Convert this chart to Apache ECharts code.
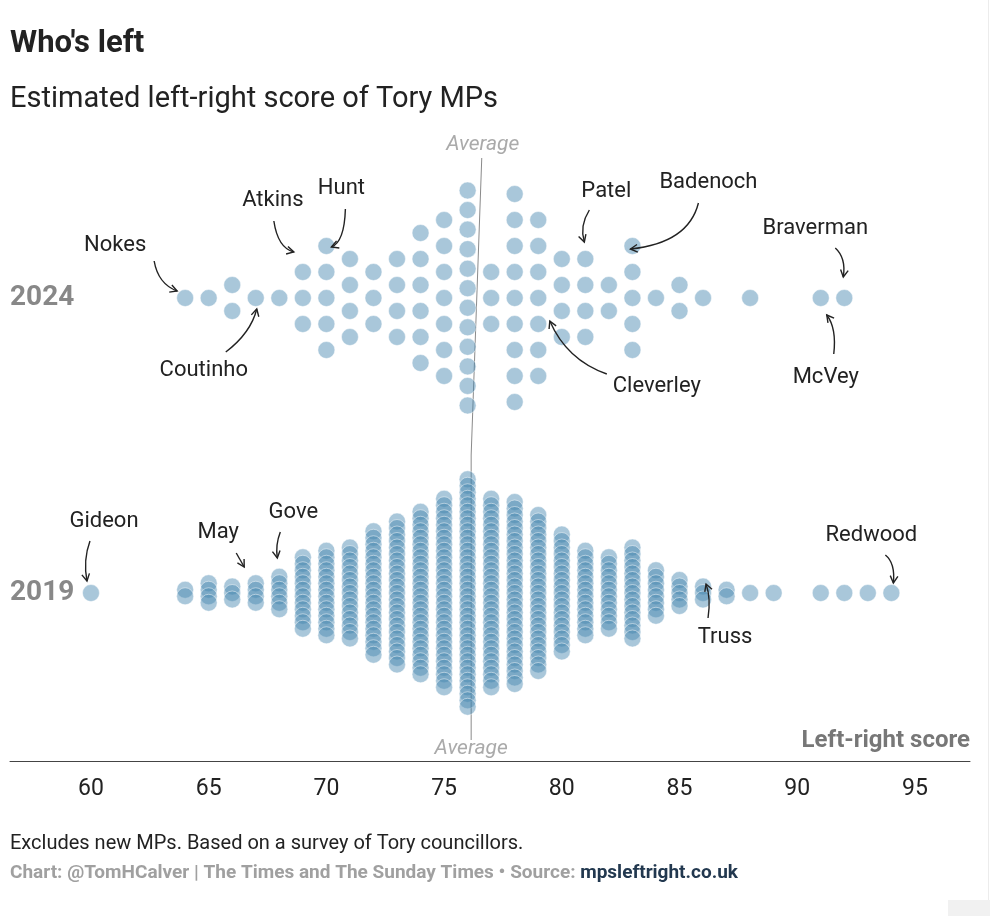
<!DOCTYPE html>
<html lang="en">
<head>
<meta charset="UTF-8">
<title>Who's left</title>
<script src="https://cdn.jsdelivr.net/npm/echarts@6/dist/echarts.min.js"></script>
<style>
  html, body { margin: 0; padding: 0; background: #fff; }
  #chart { width: 990px; height: 916px; }
</style>
</head>
<body>
<div id="chart"></div>
<script>
// left-right score columns and number of MPs on each score
const scores2024 = [64, 65, 66, 67, 68, 69, 70, 71, 72, 73, 74, 75, 76, 77, 78, 79, 80, 81, 82, 83, 84, 85, 86, 88, 91, 92];
const counts2024 = [1, 1, 2, 1, 1, 3, 5, 4, 3, 4, 6, 7, 12, 3, 9, 7, 4, 4, 2, 5, 1, 2, 1, 1, 1, 1];
const scores2019 = [60, 64, 65, 66, 67, 68, 69, 70, 71, 72, 73, 74, 75, 76, 77, 78, 79, 80, 81, 82, 83, 84, 85, 86, 87, 88, 89, 91, 92, 93, 94];
const counts2019 = [1, 2, 4, 3, 4, 6, 12, 14, 15, 20, 23, 26, 30, 36, 30, 29, 25, 19, 14, 12, 15, 8, 5, 3, 2, 1, 1, 1, 1, 1, 1];
const years = ['2024', '2019'];
const averages = [76.6, 76.15];
const xTicks = [60, 65, 70, 75, 80, 85, 90, 95];

// named MPs: which row and score the arrow points at
const noteNames = ['Nokes', 'Coutinho', 'Atkins', 'Hunt', 'Patel', 'Badenoch', 'Braverman', 'McVey', 'Cleverley', 'Gideon', 'May', 'Gove', 'Truss', 'Redwood'];
const noteYears = ['2024', '2024', '2024', '2024', '2024', '2024', '2024', '2024', '2024', '2019', '2019', '2019', '2019', '2019'];
const noteScores = [64, 67, 69, 70, 81, 83, 92, 91, 80, 60, 66, 68, 86, 94];

// label + arrow placement, in px relative to the row centre at that score
const notePlace = {
  Nokes:     { label: [-70, -53], arrow: [[-31, -37], [-27, -14], [-8, -7]] },
  Coutinho:  { label: [-52, 72],  arrow: [[-30, 54], [-5, 35], [1, 11]] },
  Atkins:    { label: [-30, -98], arrow: [[-29, -77], [-25, -50], [-9, -46]] },
  Hunt:      { label: [15, -110], arrow: [[19, -89], [18, -56], [5, -51]] },
  Patel:     { label: [21, -107], arrow: [[4, -88], [-6, -72], [-1, -56]] },
  Badenoch:  { label: [76, -116], arrow: [[66, -95], [56, -55], [-2, -49]] },
  Braverman: { label: [-29, -70], arrow: [[-9, -50], [2, -40], [-1, -21]] },
  McVey:     { label: [5, 79],    arrow: [[13, 56], [16, 30], [6, 17]] },
  Cleverley: { label: [95, 88],   arrow: [[45, 76], [5, 62], [-12, 23]] },
  Gideon:    { label: [13, -72],  arrow: [[-1, -52], [-8, -33], [-4, -12]] },
  May:       { label: [-14, -61], arrow: [[4, -40], [8, -33], [12, -26]] },
  Gove:      { label: [14, -81],  arrow: [[1, -61], [-4, -48], [-2, -35]] },
  Truss:     { label: [22, 44],   arrow: [[5, 25], [8, 5], [3, -9]] },
  Redwood:   { label: [-20, -58], arrow: [[-6, -38], [4, -30], [2, -10]] }
};

// y axis is just swarm space (top of grid = 0)
const rowCentre = { '2024': 168, '2019': 463 };

function swarm(scores, counts, centre, gapFor) {
  const pts = [];
  scores.forEach(function (s, i) {
    const n = counts[i];
    const gap = gapFor(n);
    for (let k = 0; k < n; k++) {
      pts.push([s, centre + (k - (n - 1) / 2) * gap]);
    }
  });
  return pts;
}

const dots2024 = swarm(scores2024, counts2024, rowCentre['2024'], function (n) {
  return n > 1 ? Math.min(26, 215 / (n - 1)) : 0;
});
const dots2019 = swarm(scores2019, counts2019, rowCentre['2019'], function () { return 6.5; });

const dotStyle = {
  color: 'rgba(70,135,176,0.58)',
  borderColor: 'rgba(255,255,255,0.6)',
  borderWidth: 1
};

const chart = echarts.init(document.getElementById('chart'));
const option = {
  animation: false,
  backgroundColor: '#fff',
  textStyle: { fontFamily: 'Roboto' },
  title: [
    { text: "Who's left", left: 10, top: 29, padding: 0,
      textStyle: { fontSize: 31, fontWeight: 'bold', color: '#222' } },
    { text: 'Estimated left-right score of Tory MPs', left: 10, top: 85, padding: 0,
      textStyle: { fontSize: 29, fontWeight: 'normal', color: '#222' } },
    { text: 'Left-right score', right: 20, top: 729, padding: 0,
      textStyle: { fontSize: 24, fontWeight: 'bold', color: '#777' } },
    { text: 'Excludes new MPs. Based on a survey of Tory councillors.', left: 10, top: 834, padding: 0,
      textStyle: { fontSize: 20, fontWeight: 'normal', color: '#222' } },
    { text: '{g|Chart: @TomHCalver | The Times and The Sunday Times \u2022 Source: }{b|mpsleftright.co.uk}',
      left: 10, top: 864, padding: 0,
      textStyle: { rich: {
        g: { fontSize: 19, fontWeight: 'bold', color: '#a0a0a0', fontFamily: 'Roboto' },
        b: { fontSize: 19, fontWeight: 'bold', color: '#22384f', fontFamily: 'Roboto' }
      } } }
  ],
  grid: { left: 10, right: 20, top: 130, bottom: 155, containLabel: false },
  xAxis: {
    type: 'value',
    min: 56.56,
    max: 97.34,
    axisLine: { show: true, onZero: false, lineStyle: { color: '#444', width: 1 } },
    axisTick: { show: false },
    splitLine: { show: false },
    axisLabel: { customValues: xTicks, fontSize: 23, color: '#222', margin: 17 }
  },
  yAxis: {
    type: 'value',
    inverse: true,
    min: 0,
    max: 631,
    axisLine: { show: false },
    axisTick: { show: false },
    splitLine: { show: false },
    axisLabel: {
      inside: true,
      margin: 0,
      customValues: [rowCentre['2024'], rowCentre['2019']],
      formatter: function (v) { return v === rowCentre['2024'] ? years[0] : years[1]; },
      fontSize: 28,
      fontWeight: 'bold',
      color: '#888'
    }
  },
  series: [
    {
      type: 'line',
      silent: true,
      z: 1,
      symbol: 'none',
      lineStyle: { color: '#8a8a8a', width: 1 },
      data: [[averages[0], 28], [averages[1], 325], [averages[1], 610]]
    },
    { type: 'scatter', name: '2024', z: 2, silent: true, symbolSize: 17, itemStyle: dotStyle, data: dots2024 },
    { type: 'scatter', name: '2019', z: 2, silent: true, symbolSize: 17, itemStyle: dotStyle, data: dots2019 }
  ]
};
chart.setOption(option);

// annotations and "Average" labels, placed through the chart's own scales
const gfx = [];
const toPx = function (v) { return chart.convertToPixel({ gridIndex: 0 }, v); };

const avgTop = toPx([averages[0], 28]);
const avgBot = toPx([averages[1], 619]);
[[avgTop[0] + 1, avgTop[1] - 13], [avgBot[0], avgBot[1]]].forEach(function (p) {
  gfx.push({
    type: 'text', z: 50, silent: true,
    style: {
      text: 'Average', x: p[0], y: p[1], align: 'center', verticalAlign: 'middle',
      font: 'italic 21px Roboto', fill: '#aaa', stroke: '#fff', lineWidth: 4
    }
  });
});

noteNames.forEach(function (name, i) {
  const a = toPx([noteScores[i], rowCentre[noteYears[i]]]);
  const pl = notePlace[name];
  const s = pl.arrow[0], c = pl.arrow[1], e = pl.arrow[2];
  gfx.push({
    type: 'text', z: 50, silent: true,
    style: {
      text: name, x: a[0] + pl.label[0], y: a[1] + pl.label[1], align: 'center', verticalAlign: 'middle',
      font: '22px Roboto', fill: '#222'
    }
  });
  gfx.push({
    type: 'bezierCurve', z: 50, silent: true,
    shape: { x1: a[0] + s[0], y1: a[1] + s[1], cpx1: a[0] + c[0], cpy1: a[1] + c[1], x2: a[0] + e[0], y2: a[1] + e[1] },
    style: { stroke: '#222', lineWidth: 1.4, fill: null }
  });
  // open arrow head
  const ang = Math.atan2(e[1] - c[1], e[0] - c[0]);
  const len = 8;
  const ex = a[0] + e[0], ey = a[1] + e[1];
  gfx.push({
    type: 'polyline', z: 50, silent: true,
    shape: { points: [
      [ex - len * Math.cos(ang - 0.5), ey - len * Math.sin(ang - 0.5)],
      [ex, ey],
      [ex - len * Math.cos(ang + 0.5), ey - len * Math.sin(ang + 0.5)]
    ] },
    style: { stroke: '#222', lineWidth: 1.4, fill: null }
  });
});

// faint page edge like the source screenshot
gfx.push({ type: 'rect', z: 0, silent: true, shape: { x: 948, y: 900, width: 42, height: 16 }, style: { fill: '#f1f1f1' } });
gfx.push({ type: 'line', z: 0, silent: true, shape: { x1: 988.5, y1: 0, x2: 988.5, y2: 900 }, style: { stroke: '#ececec', lineWidth: 1 } });

chart.setOption({ graphic: gfx });
</script>
</body>
</html>
